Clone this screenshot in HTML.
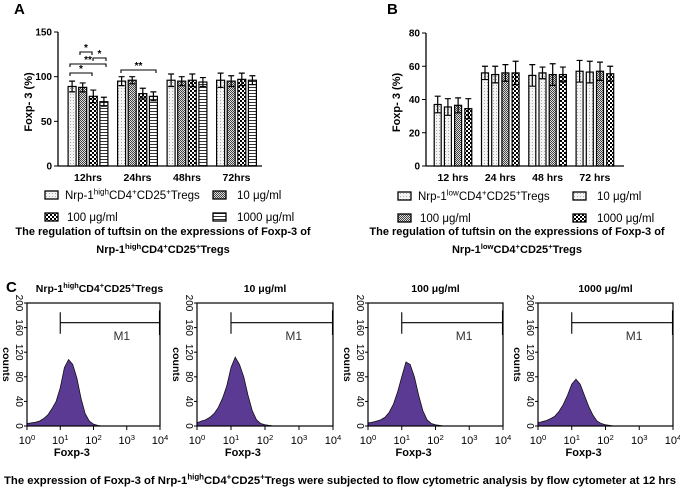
<!DOCTYPE html>
<html><head><meta charset="utf-8"><style>
body{margin:0;background:#fff}
svg{display:block;font-family:"Liberation Sans",Arial,sans-serif}
</style></head><body>
<svg id="fig" width="680" height="492" viewBox="0 0 680 492" xmlns="http://www.w3.org/2000/svg">
<defs>
<pattern id="pDot" width="3" height="3" patternUnits="userSpaceOnUse"><rect width="3" height="3" fill="#f4f4f4"/><rect x="1" y="1" width="1" height="1" fill="#aaa"/></pattern>
<pattern id="pDense" width="2" height="2" patternUnits="userSpaceOnUse"><rect width="2" height="2" fill="#ddd"/><rect width="1" height="1" fill="#444"/><rect x="1" y="1" width="1" height="1" fill="#444"/></pattern>
<pattern id="pCheck" width="4" height="4" patternUnits="userSpaceOnUse"><rect width="4" height="4" fill="#fff"/><rect width="2" height="2" fill="#000"/><rect x="2" y="2" width="2" height="2" fill="#000"/></pattern>
<pattern id="pHor" width="3" height="3" patternUnits="userSpaceOnUse"><rect width="3" height="3" fill="#fff"/><rect width="3" height="1" fill="#333"/></pattern>
</defs>
<g id="A"></g>
<g id="B"></g>
<g id="C"></g>
</svg>
<script>
const groupsA=["12hrs","24hrs","48hrs","72hrs"];
const valsA=[[89,88,78,72],[95,96,81,78],[96,95,96,94],[96,95,97,96]];
const errA=[[6,5,7,5],[5,4,6,5],[7,5,7,5],[8,6,7,5]];
const ticksA=[0,50,100,150];
const groupsB=["12 hrs","24 hrs","48 hrs","72 hrs"];
const valsB=[[37,35.5,36.5,34.5],[56,55,56,56],[54.5,56,55,55],[57,56.5,57,55.5]];
const errB=[[5,5,4.5,6],[4,5,5,7],[6.5,3.5,6.5,4.5],[6.5,6.5,5.5,4.5]];
const ticksB=[0,20,40,60,80];
const histTitles=["Nrp-1highCD4+CD25+Tregs","10 μg/ml","100 μg/ml","1000 μg/ml"];
const histLogX=[0,0.125,0.25,0.375,0.5,0.625,0.75,0.875,1,1.125,1.25,1.375,1.5,1.625,1.75,1.875,2,2.125,2.25,4];
const hist1=[4,5,6,8,12,18,28,40,62,95,108,100,78,45,20,8,3,1,0,0];
const hist2=[5,8,10,14,20,30,45,65,95,112,100,80,50,25,10,4,2,1,0,0];
const hist3=[5,6,8,10,14,22,35,55,80,104,100,80,50,25,10,4,2,1,0,0];
const hist4=[5,7,9,12,16,24,35,50,68,76,68,50,32,18,8,4,2,1,0,0];
const histData=[hist1,hist2,hist3,hist4];
const countTicks=[0,40,80,120,160,200];

const NS="http://www.w3.org/2000/svg";
function mk(p,tag,at,txt){const e=document.createElementNS(NS,tag);for(const k in at)e.setAttribute(k,at[k]);if(txt!==undefined)e.textContent=txt;p.appendChild(e);return e;}
function sup(p,x,y,parts,size,anchor){const t=mk(p,"text",{x:x,y:y,"font-size":size,"text-anchor":anchor||"start"});parts.forEach(s=>{const ts=document.createElementNS(NS,"tspan");if(s[1]){ts.setAttribute("font-size",size*0.7);ts.setAttribute("dy",-size*0.38);}else if(s[2]){ts.setAttribute("dy",size*0.38);}ts.textContent=s[0];t.appendChild(ts);});return t;}

function barChart(g,o){
 const y=v=>o.y0-(v/o.max)*(o.y0-o.y1);
 mk(g,"text",{x:o.labX,y:14,"font-size":15,"font-weight":"bold"},o.letter);
 const ax=mk(g,"g",{});
 
 mk(ax,"line",{x1:o.ax,y1:o.y1,x2:o.ax,y2:o.y0,stroke:"#000","stroke-width":1.3});
 mk(ax,"line",{x1:o.ax,y1:o.y0,x2:o.axEnd,y2:o.y0,stroke:"#000","stroke-width":1.3});
 o.ticks.forEach(t=>{mk(ax,"line",{x1:o.ax-4,y1:y(t),x2:o.ax,y2:y(t),stroke:"#000"});
  mk(ax,"text",{x:o.ax-6,y:y(t)+3.5,"font-size":10,"font-weight":"bold","text-anchor":"end"},t);});
 const yt=mk(g,"text",{x:0,y:0,"font-size":11,"font-weight":"bold","text-anchor":"middle",transform:`translate(${o.ax-26},${(o.y0+o.y1)/2+3}) rotate(-90)`},"Foxp- 3 (%)");
 
 o.groups.forEach((gn,i)=>{
  const cx=o.g0+i*o.gs;
  const lab=mk(g,"text",{x:cx,y:o.y0+15,"font-size":10.5,"font-weight":"bold","text-anchor":"middle"},gn);
  
  o.vals[i].forEach((v,j)=>{
   const x=cx-2*o.bs+j*o.bs+(o.bs-o.bw)/2;
   const r=mk(g,"rect",{x:x,y:y(v),width:o.bw,height:o.y0-y(v),fill:`url(#${o.pats[j]})`,stroke:"#000","stroke-width":1.2});
   
   const e=o.err[i][j],m=x+o.bw/2;
   const eb=mk(g,"path",{d:`M${m},${y(v+e)}V${y(v-e)}M${m-3},${y(v+e)}H${m+3}M${m-3},${y(v-e)}H${m+3}`,stroke:"#000","stroke-width":1.2,fill:"none"});
   
  });
 });
}
const A=document.getElementById("A"),B=document.getElementById("B");
barChart(A,{letter:"A",labX:14,ax:58,axEnd:262,y0:166,y1:32,max:150,ticks:ticksA,groups:groupsA,vals:valsA,err:errA,g0:88,gs:49.5,bs:10.6,bw:8,pats:["pDot","pDense","pCheck","pHor"]});
barChart(B,{letter:"B",labX:387,ax:426,axEnd:624,y0:166,y1:33,max:80,ticks:ticksB,groups:groupsB,vals:valsB,err:errB,g0:453,gs:47.3,bs:10.2,bw:7,pats:["pDot","pDot","pDense","pCheck"]});
const sig=[[80,92,52,"*"],[93,106,58,"*"],[70,106,64,"**"],[70,92,73,"*"],[121,156,70,"**"]];
sig.forEach(s=>{const gg=mk(A,"g",{});
 mk(gg,"path",{d:`M${s[0]},${s[2]+3}V${s[2]}H${s[1]}V${s[2]+3}`,stroke:"#000","stroke-width":1.1,fill:"none"});
 mk(gg,"text",{x:(s[0]+s[1])/2,y:s[2]-1,"font-size":10,"font-weight":"bold","text-anchor":"middle"},s[3]);});
function swatch(p,x,y,pat,name){const r=mk(p,"rect",{x:x,y:y-8,width:13,height:8,fill:`url(#${pat})`,stroke:"#000","stroke-width":1.3});}
function legend(g,x1,x2,r1,r2,pats,hl){
 swatch(g,x1,r1,pats[0],"legend-swatch-control");
 sup(g,x1+20,r1,[["Nrp-1"],[hl,1],["CD4",0,1],["+",1],["CD25",0,1],["+",1],["Tregs",0,1]],11.5);
 swatch(g,x2,r1,pats[1],"legend-swatch-10");mk(g,"text",{x:x2+24,y:r1,"font-size":11.5},"10 μg/ml");
 swatch(g,x1,r2,pats[2],"legend-swatch-100");mk(g,"text",{x:x1+22,y:r2,"font-size":11.5},"100 μg/ml");
 swatch(g,x2,r2,pats[3],"legend-swatch-1000");mk(g,"text",{x:x2+24,y:r2,"font-size":11.5},"1000 μg/ml");
}
legend(A,45,213,199,221,["pDot","pDense","pCheck","pHor"],"high");
legend(B,398,573,200,222,["pDot","pDot","pDense","pCheck"],"low");
function caption(g,cx,hl){
 mk(g,"text",{x:cx,y:235,"font-size":11,"font-weight":"bold","text-anchor":"middle"},"The regulation of tuftsin  on the expressions of Foxp-3 of");
 sup(g,cx,253,[["Nrp-1"],[hl,1],["CD4",0,1],["+",1],["CD25",0,1],["+",1],["Tregs",0,1]],11,"middle").setAttribute("font-weight","bold");
}
caption(A,163,"high");caption(B,517,"low");

const C=document.getElementById("C");
mk(C,"text",{x:6,y:292,"font-size":15,"font-weight":"bold"},"C");
const boxes=[[27,160],[197,333],[368,503],[538,673]];
const hy0=426,hy1=303;
boxes.forEach((b,k)=>{
 const g=mk(C,"g",{});
 const xs=l=>b[0]+l/4*(b[1]-b[0]);
 const ys=c=>hy0-c/200*(hy0-hy1);
 let d=`M${xs(0)},${hy0}`;histLogX.forEach((l,i)=>{d+=`L${xs(l)},${ys(histData[k][i])}`;});d+=`L${xs(4)},${hy0}Z`;
 const h=mk(g,"path",{d:d,fill:"#5b3a94",stroke:"#111","stroke-width":0.8});
 
 mk(g,"rect",{x:b[0],y:hy1,width:b[1]-b[0],height:hy0-hy1,fill:"none",stroke:"#000","stroke-width":1.2});
 countTicks.forEach(c=>{mk(g,"line",{x1:b[0]-3,y1:ys(c),x2:b[0],y2:ys(c),stroke:"#000"});
  mk(g,"text",{x:0,y:0,"font-size":10,"text-anchor":"middle",transform:`translate(${b[0]-11},${ys(c)}) rotate(90)`},c);});
 mk(g,"text",{x:0,y:0,"font-size":10.5,"font-weight":"bold","text-anchor":"middle",transform:`translate(${b[0]-24},${(hy0+hy1)/2}) rotate(90)`},"counts");
 [0,1,2,3,4].forEach(e=>{mk(g,"line",{x1:xs(e),y1:hy0,x2:xs(e),y2:hy0+4,stroke:"#000"});
  sup(g,xs(e),hy0+18,[["10"],[e,1]],11,"middle");});
 mk(g,"text",{x:xs(1.35),y:hy0+30,"font-size":11,"font-weight":"bold","text-anchor":"middle"},"Foxp-3");
 const m=mk(g,"path",{d:`M${xs(1)},${ys(168)}H${xs(4)}M${xs(1)},${ys(185)}V${ys(150)}M${xs(4)-0.5},${ys(188)}V${ys(148)}`,stroke:"#000","stroke-width":1.1,fill:"none"});
 
 mk(g,"text",{x:xs(2.6),y:ys(140),"font-size":12,fill:"#333"},"M1");
 if(k===0) sup(g,(b[0]+b[1])/2+6,292,[["Nrp-1"],["high",1],["CD4",0,1],["+",1],["CD25",0,1],["+",1],["Tregs",0,1]],10.5,"middle").setAttribute("font-weight","bold");
 else mk(g,"text",{x:(b[0]+b[1])/2,y:292,"font-size":10.5,"font-weight":"bold","text-anchor":"middle"},histTitles[k]);
});
const cap=sup(C,340,484,[["The expression of Foxp-3 of Nrp-1"],["high",1],["CD4",0,1],["+",1],["CD25",0,1],["+",1],["Tregs were subjected to flow cytometric analysis by flow cytometer at 12 hrs",0,1]],11.3,"middle");
cap.setAttribute("font-weight","bold");


</script>
</body></html>
